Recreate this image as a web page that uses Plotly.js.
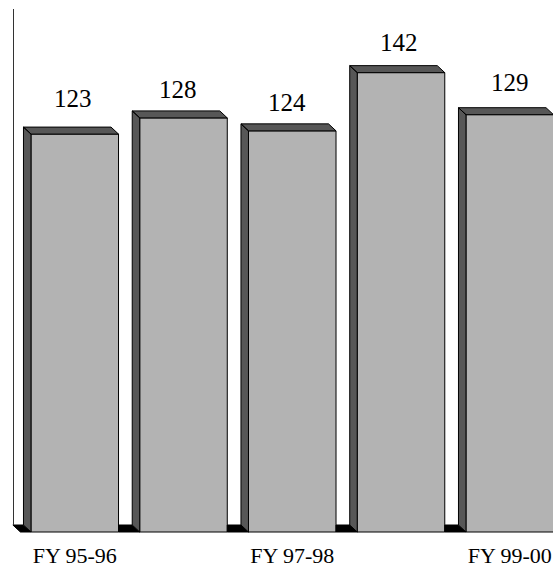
<!DOCTYPE html>
<html>
<head>
<meta charset="utf-8">
<script src="https://cdn.plot.ly/plotly-3.0.1.min.js"></script>
<style>html,body{margin:0;padding:0;background:#fff;}#chart{width:553px;height:568px;}</style>
</head>
<body>
<div id="chart"></div>
<script>
// ---- data ----
const categories = ['FY 95-96', 'FY 96-97', 'FY 97-98', 'FY 98-99', 'FY 99-00'];
const values = [123, 128, 124, 142, 129];
const tickLabels = ['FY 95-96', 'FY 97-98', 'FY 99-00'];

// ---- geometry / style (not data) ----
const W = 553, H = 568, marginB = 34;
const pxPerCat = 108.75;            // pixels per category step
const pxPerUnit = 3.235;            // pixels per value unit
const barWidth = 0.805;             // in category units
const depthX = -7.5 / pxPerCat;     // 3D depth offset (left)
const depthY = 7 / pxPerUnit;       // 3D depth offset (up)
const plotH = H - marginB;
const xRange = [-74.75 / pxPerCat, -74.75 / pxPerCat + W / pxPerCat];
const yRange = [-2 / pxPerUnit, (plotH - 2) / pxPerUnit];
const labelNudgeX = [-1.75, -5.5, -5.25, -2, 0.25];
const labelNudgeY = [20, 13, 13, 14.6, 16.7];

const xs = categories.map((c, i) => i);

// side + top faces
const fx = [], fy = [];
xs.forEach((x, i) => {
  const v = values[i], xl = x - barWidth / 2, xr = x + barWidth / 2;
  // top face
  fx.push(xl, xr, xr + depthX, xl + depthX, xl, null);
  fy.push(v, v, v + depthY, v + depthY, v, null);
  // left side face
  fx.push(xl, xl, xl + depthX, xl + depthX, xl, null);
  fy.push(0, v, v + depthY, depthY, 0, null);
});

// floor pieces visible between bars
const flx = [], fly = [];
const n = xs.length;
for (let i = -1; i < n; i++) {
  const left = i < 0 ? -0.5 : xs[i] + barWidth / 2;
  const right = i + 1 < n ? xs[i + 1] - barWidth / 2 : n - 0.5;
  const backLeft = i < 0 ? -0.5 + depthX : left;
  const backRight = i + 1 < n ? right + depthX : n - 0.5 + depthX;
  flx.push(left, right, backRight, backLeft, left, null);
  fly.push(0, 0, depthY, depthY, 0, null);
}

const traces = [
  {
    type: 'bar', x: xs, y: values, width: barWidth, base: 0,
    marker: {color: '#b3b3b3', line: {color: '#000', width: 1}},
    hoverinfo: 'skip', showlegend: false
  },
  {
    type: 'scatter', mode: 'lines', x: flx, y: fly, fill: 'toself',
    fillcolor: '#000', line: {color: '#000', width: 1},
    hoverinfo: 'skip', showlegend: false
  },
  {
    type: 'scatter', mode: 'lines', x: fx, y: fy, fill: 'toself',
    fillcolor: '#575757', line: {color: '#000', width: 1},
    hoverinfo: 'skip', showlegend: false
  },
  {
    type: 'scatter', mode: 'lines', x: [], y: [], xaxis: 'x', yaxis: 'y2',
    hoverinfo: 'skip', showlegend: false
  }
];

const annotations = xs.map((x, i) => ({
  x: x, y: values[i], xref: 'x', yref: 'y',
  text: String(values[i]), showarrow: false,
  xanchor: 'center', yanchor: 'bottom',
  xshift: labelNudgeX[i], yshift: labelNudgeY[i],
  font: {family: 'Liberation Serif, serif', size: 25, color: '#000'}
}));

const tickVals = tickLabels.map(t => categories.indexOf(t));

const layout = {
  width: W, height: H,
  margin: {l: 0, r: 0, t: 0, b: marginB, pad: 0},
  paper_bgcolor: '#fff', plot_bgcolor: 'rgba(0,0,0,0)',
  showlegend: false,
  xaxis: {
    range: xRange, showgrid: false, zeroline: false, showline: false,
    ticks: '', tickvals: tickVals, ticktext: tickLabels,
    ticklabelstandoff: 6, ticklabelshift: -1.5,
    tickfont: {family: 'Liberation Serif, serif', size: 22, color: '#000'}
  },
  yaxis: {
    range: yRange, showgrid: false, zeroline: false, showline: false,
    showticklabels: false, ticks: ''
  },
  yaxis2: {
    domain: [(2 + 7) / plotH, (plotH - 9) / plotH],
    anchor: 'free', position: (74.75 - 0.5 * pxPerCat - 7.5) / W,
    range: [0, 1],
    showline: true, linecolor: '#333', linewidth: 1,
    showgrid: false, zeroline: false, showticklabels: false, ticks: ''
  },
  annotations: annotations
};

Plotly.newPlot('chart', traces, layout, {staticPlot: true, displayModeBar: false});
</script>
</body>
</html>
